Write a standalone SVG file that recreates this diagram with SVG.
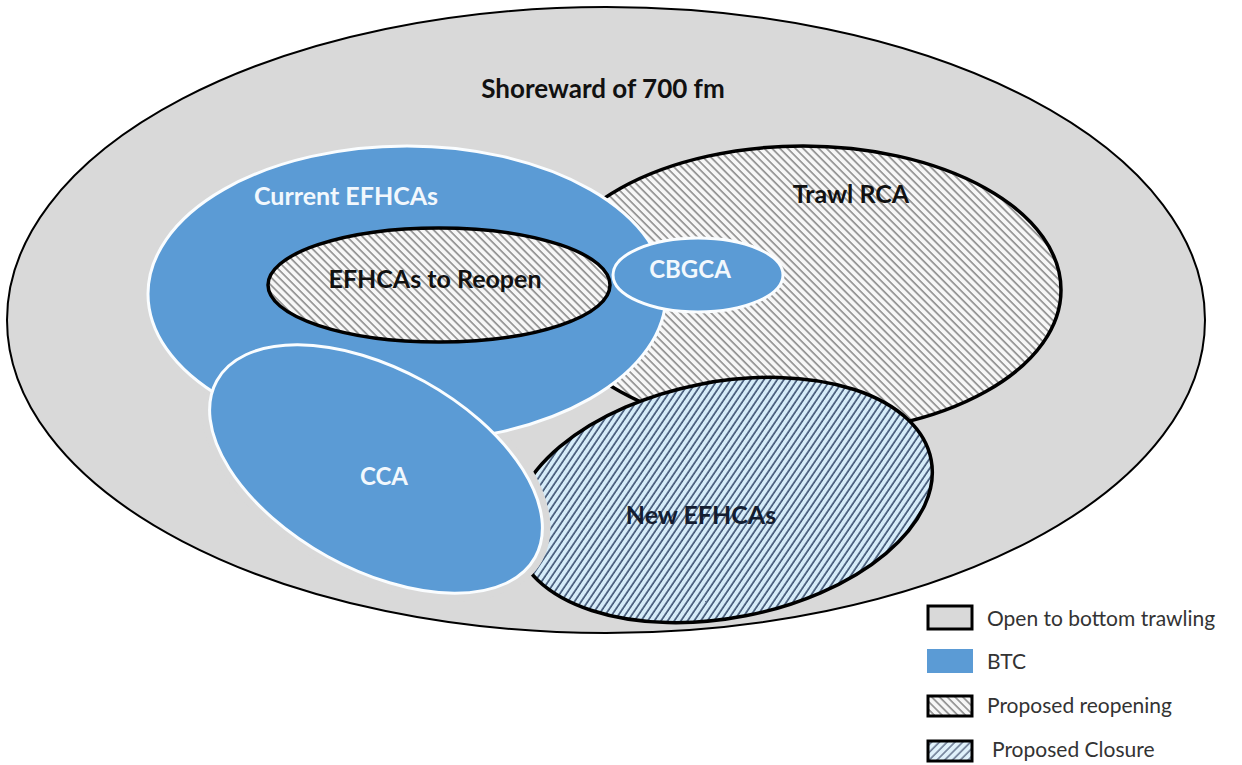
<svg xmlns="http://www.w3.org/2000/svg" width="1242" height="765" viewBox="0 0 1242 765">
<defs>
<pattern id="hatchGray" width="5.5" height="5.5" patternUnits="userSpaceOnUse" patternTransform="rotate(-45)">
<rect width="5.5" height="5.5" fill="#f7f7f7"/>
<line x1="1" y1="0" x2="1" y2="5.5" stroke="#8c8c8c" stroke-width="1.6"/>
</pattern>
<pattern id="hatchBlue" width="5.5" height="5.5" patternUnits="userSpaceOnUse" patternTransform="rotate(45)">
<rect width="5.5" height="5.5" fill="#d6ecf9"/>
<line x1="1" y1="0" x2="1" y2="5.5" stroke="#24395c" stroke-width="1.4"/>
</pattern>
<style>
.lbl{font-family:Lato,"Liberation Sans",sans-serif;font-weight:bold;text-anchor:middle}
.dark{fill:#111}
.light{fill:#f2f8fd}
.leg{font-family:Lato,"Liberation Sans",sans-serif;font-size:21px;fill:#333}
.blue{fill:#5b9bd5;stroke:#fafdff;stroke-width:3}
.reopen{fill:url(#hatchGray);stroke:#000;stroke-width:3.5}
.closure{fill:url(#hatchBlue);stroke:#000;stroke-width:3.5}
</style>
</defs>
<rect width="1242" height="765" fill="#ffffff"/>

<g id="shoreward">
<ellipse cx="606" cy="320" rx="599" ry="313" fill="#d9d9d9" stroke="#000" stroke-width="2"/>
<text class="lbl dark" x="603" y="98" font-size="26">Shoreward of 700 fm</text>
</g>

<g id="trawl-rca">
<ellipse class="reopen" cx="803" cy="290" rx="258" ry="144"/>
<text class="lbl dark" x="851" y="203" font-size="25">Trawl RCA</text>
</g>

<g id="new-efhcas">
<ellipse class="closure" cx="723" cy="500" rx="212" ry="118" transform="rotate(-11 723 500)"/>
<text class="lbl" fill="#141d30" x="701" y="524" font-size="25">New EFHCAs</text>
</g>

<g id="cca-halo">
<ellipse cx="376" cy="469" rx="182" ry="100" transform="rotate(29 376 469)" fill="none" stroke="#d9d9d9" stroke-width="16"/>
</g>

<g id="current-efhcas">
<ellipse class="blue" cx="407" cy="294" rx="259" ry="148"/>
<text class="lbl light" x="346" y="205" font-size="25">Current EFHCAs</text>
</g>

<g id="efhcas-reopen">
<ellipse class="reopen" cx="439" cy="285" rx="171" ry="57"/>
<text class="lbl dark" x="435" y="288" font-size="25">EFHCAs to Reopen</text>
</g>

<g id="cbgca">
<ellipse class="blue" cx="698" cy="275" rx="85" ry="37"/>
<text class="lbl light" x="690" y="278" font-size="24">CBGCA</text>
</g>

<g id="cca">
<ellipse class="blue" cx="376" cy="469" rx="182" ry="100" transform="rotate(29 376 469)"/>
<text class="lbl light" x="384" y="485" font-size="24">CCA</text>
</g>

<g id="connectors"></g>

<g id="legend">
<rect x="928" y="606" width="44" height="23" fill="#d9d9d9" stroke="#000" stroke-width="3"/>
<text class="leg" x="987" y="626">Open to bottom trawling</text>
<rect x="927" y="649" width="46" height="24" fill="#5b9bd5"/>
<text class="leg" x="987" y="669">BTC</text>
<rect x="928" y="696" width="44" height="20" fill="url(#hatchGray)" stroke="#000" stroke-width="3"/>
<text class="leg" x="987" y="713">Proposed reopening</text>
<rect x="928" y="741" width="44" height="20" fill="url(#hatchBlue)" stroke="#000" stroke-width="3" fill-opacity="0.75"/>
<text class="leg" x="992" y="757">Proposed Closure</text>
</g>
</svg>
